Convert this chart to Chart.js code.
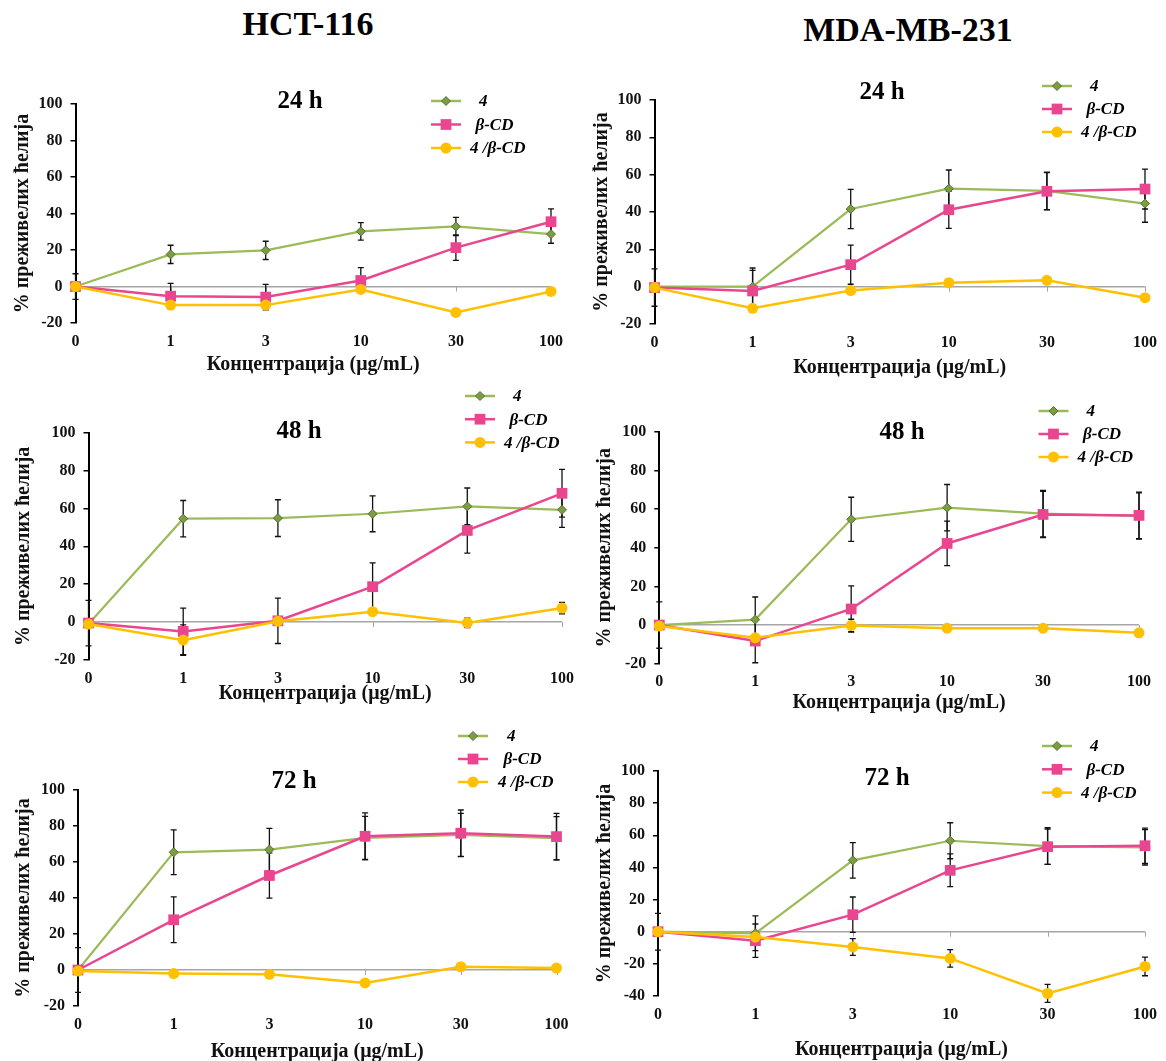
<!DOCTYPE html>
<html>
<head>
<meta charset="utf-8">
<script src="https://cdn.jsdelivr.net/npm/chart.js@4.4.0/dist/chart.umd.min.js"></script>
<style>
  body { margin: 0; background: #fff; overflow: hidden; }
  #page { position: relative; width: 1166px; height: 1061px; overflow: hidden; }
  .head { position: absolute; font: bold 34px 'Liberation Serif', serif; line-height: 34px; color: #000; transform: translateX(-50%); white-space: nowrap; }
  canvas { position: absolute; }
</style>
</head>
<body>
<div id="page">
  <div class="head" style="left:308px;top:7px">HCT-116</div>
  <div class="head" style="left:908px;top:13px">MDA-MB-231</div>
</div>
<script>
// categories and series names
const concentrations = ['0', '1', '3', '10', '30', '100']
const seriesNames = ['4', 'β-CD', '4 /β-CD']

// HCT-116, 24 h
const hct24_c4 = [0, 17.6, 19.8, 30.2, 32.9, 28.7]
const hct24_c4_sd = [0, 5, 5, 4.8, 5, 5]
const hct24_cd = [0, -5.3, -5.8, 3.3, 21.3, 35.5]
const hct24_cd_sd = [7, 7, 7, 7, 7, 7]
const hct24_mix = [0, -10.2, -10.2, -1.6, -14.2, -2.7]
const hct24_mix_sd = [0, 1.5, 1.5, 1.5, 1.5, 1.5]

// MDA-MB-231, 24 h
const mda24_c4 = [0, 0, 41.6, 52.5, 51.3, 44.5]
const mda24_c4_sd = [0, 10, 10.5, 10, 10, 10]
const mda24_cd = [-0.5, -2.3, 11.8, 41.2, 51.1, 52.3]
const mda24_cd_sd = [10, 11, 10.5, 10, 10, 10.7]
const mda24_mix = [-0.5, -11.6, -2.1, 2.1, 3.4, -5.9]
const mda24_mix_sd = [0, 1.5, 1.5, 1.5, 1.5, 1.5]

// HCT-116, 48 h
const hct48_c4 = [-1, 54.6, 54.9, 57.2, 61.1, 59.3]
const hct48_c4_sd = [0, 9.6, 9.7, 9.5, 9.7, 9.3]
const hct48_cd = [-0.5, -4.9, 0.7, 18.7, 48.4, 68]
const hct48_cd_sd = [12, 12.3, 12, 12.6, 12, 12.6]
const hct48_mix = [-1, -9.5, 0.5, 5.5, -0.4, 7.4]
const hct48_mix_sd = [0, 8, 1.5, 1.5, 2.5, 3]

// MDA-MB-231, 48 h
const mda48_c4 = [0, 2.8, 54.7, 60.7, 57.6, 56.4]
const mda48_c4_sd = [0, 11.7, 11.4, 12, 12, 12]
const mda48_cd = [0, -8.3, 8.3, 42.2, 57.2, 56.7]
const mda48_cd_sd = [12, 11.2, 12, 11.5, 12, 12]
const mda48_mix = [-0.5, -6.6, -0.2, -1.6, -1.6, -4]
const mda48_mix_sd = [0, 1.5, 3.2, 1.5, 1.5, 1.5]

// HCT-116, 72 h
const hct72_c4 = [0, 65.4, 66.9, 73.4, 75, 73.2]
const hct72_c4_sd = [0, 12.4, 11.8, 12, 12, 12]
const hct72_cd = [0, 27.9, 52.5, 74.3, 76, 74.1]
const hct72_cd_sd = [12.4, 12.7, 12.6, 13, 12.9, 12.9]
const hct72_mix = [-0.5, -2, -2.4, -7.2, 1.8, 1.1]
const hct72_mix_sd = [0, 1, 1, 1, 1, 1]

// MDA-MB-231, 72 h
const mda72_c4 = [0, -1, 44.4, 56.6, 53.3, 52.5]
const mda72_c4_sd = [0, 10.8, 11, 11.2, 11.4, 11]
const mda72_cd = [0, -5.6, 10.6, 38.2, 52.9, 53.5]
const mda72_cd_sd = [11.4, 10.4, 11, 10.2, 11, 11]
const mda72_mix = [0, -3.3, -9.5, -16.6, -38.4, -21.6]
const mda72_mix_sd = [0, 2, 5.2, 5.4, 5.6, 5.8]

const SERIF = "'Liberation Serif', 'Times New Roman', serif"
const GREEN = '#9bbb59'
const PINK = '#e9468f'
const YELLOW = '#ffc000'

Chart.defaults.font.family = SERIF

// error bars + small ticks on the zero line
const errorBars = {
  id: 'errorBars',
  beforeDatasetsDraw(chart) {
    const ctx = chart.ctx
    const x = chart.scales.x
    const y = chart.scales.y
    ctx.save()
    // ticks on the zero line
    const y0 = y.getPixelForValue(0)
    ctx.strokeStyle = '#a6a6a6'
    ctx.lineWidth = 1
    ctx.beginPath()
    for (let i = 1; i < concentrations.length; i++) {
      const px = Math.round(x.getPixelForValue(i)) + 0.5
      ctx.moveTo(px, y0)
      ctx.lineTo(px, y0 + 5)
    }
    ctx.stroke()

    ctx.strokeStyle = '#111'
    ctx.lineWidth = 1.3
    chart.data.datasets.forEach(ds => {
      (ds.sd || []).forEach((e, i) => {
        if (!e) return
        const v = ds.data[i]
        const px = x.getPixelForValue(i)
        const top = y.getPixelForValue(v + e)
        const bot = y.getPixelForValue(v - e)
        ctx.beginPath()
        ctx.moveTo(px, top); ctx.lineTo(px, bot)
        ctx.moveTo(px - 3, top); ctx.lineTo(px + 3, top)
        ctx.moveTo(px - 3, bot); ctx.lineTo(px + 3, bot)
        ctx.stroke()
      })
    })
    ctx.restore()
  }
}

function drawMarker(ctx, ds, x, y) {
  ctx.fillStyle = ds.pointBackgroundColor
  ctx.strokeStyle = ds.pointBorderColor
  ctx.lineWidth = ds.pointBorderWidth
  const r = ds.pointRadius
  ctx.beginPath()
  if (ds.pointStyle === 'rectRot') {
    ctx.moveTo(x, y - r); ctx.lineTo(x + r, y); ctx.lineTo(x, y + r); ctx.lineTo(x - r, y); ctx.closePath()
  } else if (ds.pointStyle === 'rect') {
    const h = r * Math.SQRT1_2
    ctx.rect(x - h, y - h, 2 * h, 2 * h)
  } else {
    ctx.arc(x, y, r, 0, Math.PI * 2)
  }
  ctx.fill()
  if (ds.pointBorderWidth) ctx.stroke()
}

// panel title ("24 h") and the legend
const deco = {
  id: 'deco',
  afterDraw(chart, args, o) {
    const ctx = chart.ctx
    ctx.save()
    ctx.fillStyle = '#000'
    ctx.font = 'bold 25px ' + SERIF
    ctx.textAlign = 'center'
    ctx.textBaseline = 'middle'
    ctx.fillText(o.text, o.tx - o.ox, o.ty - o.oy)

    ctx.font = 'italic bold 17px ' + SERIF
    ctx.textAlign = 'left'
    const indent = [9, 5.5, 0]
    chart.data.datasets.forEach((ds, i) => {
      const ly = o.ly - o.oy + i * o.ldy
      const lx = o.lx - o.ox
      ctx.strokeStyle = ds.borderColor
      ctx.lineWidth = 2.5
      ctx.beginPath()
      ctx.moveTo(lx, ly); ctx.lineTo(lx + 30, ly)
      ctx.stroke()
      drawMarker(ctx, ds, lx + 15, ly)
      ctx.fillStyle = '#000'
      ctx.fillText(ds.label, o.ltx - o.ox + indent[i], ly + 1)
    })
    ctx.restore()
  }
}

function makeSets(c4, c4sd, cd, cdsd, mix, mixsd) {
  return [
    { label: seriesNames[0], data: c4, sd: c4sd, borderColor: GREEN, borderWidth: 2.2,
      pointStyle: 'rectRot', pointRadius: 4.5, pointBackgroundColor: '#7d9c46', pointBorderColor: '#55722c', pointBorderWidth: 1, order: 2 },
    { label: seriesNames[1], data: cd, sd: cdsd, borderColor: PINK, borderWidth: 2.5,
      pointStyle: 'rect', pointRadius: 7.6, pointBackgroundColor: PINK, pointBorderColor: PINK, pointBorderWidth: 0, order: 1 },
    { label: seriesNames[2], data: mix, sd: mixsd, borderColor: YELLOW, borderWidth: 2.5,
      pointStyle: 'circle', pointRadius: 5.5, pointBackgroundColor: YELLOW, pointBorderColor: YELLOW, pointBorderWidth: 0, order: 0 }
  ]
}

const panels = [
  { cell: [0, 50, 583, 330], L: 75.5, R: 551, T: 104, B: 323, min: -20, ytx: 23, xty: 365,
    text: '24 h', tx: 300, ty: 102, lx: 431, ltx: 470, ly: 101, ldy: 23.5,
    sets: makeSets(hct24_c4, hct24_c4_sd, hct24_cd, hct24_cd_sd, hct24_mix, hct24_mix_sd) },
  { cell: [583, 50, 583, 330], L: 654.5, R: 1145, T: 100, B: 324, min: -20, ytx: 602, xty: 368,
    text: '24 h', tx: 882, ty: 93, lx: 1042, ltx: 1081, ly: 86, ldy: 23,
    sets: makeSets(mda24_c4, mda24_c4_sd, mda24_cd, mda24_cd_sd, mda24_mix, mda24_mix_sd) },
  { cell: [0, 380, 583, 335], L: 88.5, R: 563, T: 432.7, B: 660, min: -20, ytx: 24, xty: 694,
    text: '48 h', tx: 299, ty: 432, lx: 465, ltx: 504, ly: 396, ldy: 23.2,
    sets: makeSets(hct48_c4, hct48_c4_sd, hct48_cd, hct48_cd_sd, hct48_mix, hct48_mix_sd) },
  { cell: [583, 380, 583, 335], L: 659.3, R: 1139, T: 431.7, B: 663.7, min: -20, ytx: 605, xty: 703,
    text: '48 h', tx: 902, ty: 433, lx: 1038.5, ltx: 1077.6, ly: 411, ldy: 23,
    sets: makeSets(mda48_c4, mda48_c4_sd, mda48_cd, mda48_cd_sd, mda48_mix, mda48_mix_sd) },
  { cell: [0, 715, 583, 350], L: 78, R: 556.5, T: 790, B: 1006, min: -20, ytx: 24, xty: 1051.7,
    text: '72 h', tx: 294, ty: 782, lx: 458, ltx: 498, ly: 736, ldy: 23,
    sets: makeSets(hct72_c4, hct72_c4_sd, hct72_cd, hct72_cd_sd, hct72_mix, hct72_mix_sd) },
  { cell: [583, 715, 583, 350], L: 658, R: 1150, T: 771, B: 996, min: -40, ytx: 605, xty: 1050,
    text: '72 h', tx: 887, ty: 779, lx: 1042, ltx: 1081, ly: 746, ldy: 23.3,
    sets: makeSets(mda72_c4, mda72_c4_sd, mda72_cd, mda72_cd_sd, mda72_mix, mda72_mix_sd) }
]

const page = document.getElementById('page')

panels.forEach(p => {
  const [cx, cy, cw, ch] = p.cell
  const cv = document.createElement('canvas')
  cv.width = cw
  cv.height = ch
  cv.style.left = cx + 'px'
  cv.style.top = cy + 'px'
  cv.style.width = cw + 'px'
  cv.style.height = ch + 'px'
  page.appendChild(cv)

  const yBoxLeft = p.ytx - 12
  const wy = p.L - yBoxLeft
  const hx = p.xty + 12 - p.B

  new Chart(cv, {
    type: 'line',
    data: { labels: concentrations, datasets: p.sets },
    options: {
      responsive: false,
      animation: false,
      devicePixelRatio: 1,
      layout: { padding: { left: yBoxLeft - cx, top: p.T - cy, right: cx + cw - p.R, bottom: cy + ch - p.xty - 12 } },
      datasets: { line: { clip: false, tension: 0 } },
      plugins: {
        legend: { display: false },
        tooltip: { enabled: false },
        deco: { text: p.text, tx: p.tx, ty: p.ty, lx: p.lx, ltx: p.ltx, ly: p.ly, ldy: p.ldy, ox: cx, oy: cy }
      },
      scales: {
        x: {
          type: 'category',
          offset: false,
          grid: { display: false, drawTicks: false },
          border: { display: false },
          ticks: { font: { size: 16, weight: 'bold' }, color: '#111', padding: 9, maxRotation: 0, autoSkip: false },
          title: { display: true, text: 'Концентрација (μg/mL)', font: { size: 20, weight: 'bold' }, color: '#111', padding: 0 },
          afterFit: s => { s.height = hx }
        },
        y: {
          min: p.min,
          max: 100,
          ticks: { stepSize: 20, font: { size: 16, weight: 'bold' }, color: '#111', padding: 8 },
          grid: {
            color: c => (c.tick && c.tick.value === 0 ? '#a6a6a6' : 'rgba(0,0,0,0)'),
            lineWidth: 1.5,
            tickColor: '#000',
            tickLength: 5,
            tickWidth: 1.5
          },
          border: { color: '#000', width: 2 },
          title: { display: true, text: '% преживелих ћелија', font: { size: 20, weight: 'bold' }, color: '#111', padding: 0 },
          afterFit: s => { s.width = wy }
        }
      }
    },
    plugins: [errorBars, deco]
  })
})
</script>
</body>
</html>
